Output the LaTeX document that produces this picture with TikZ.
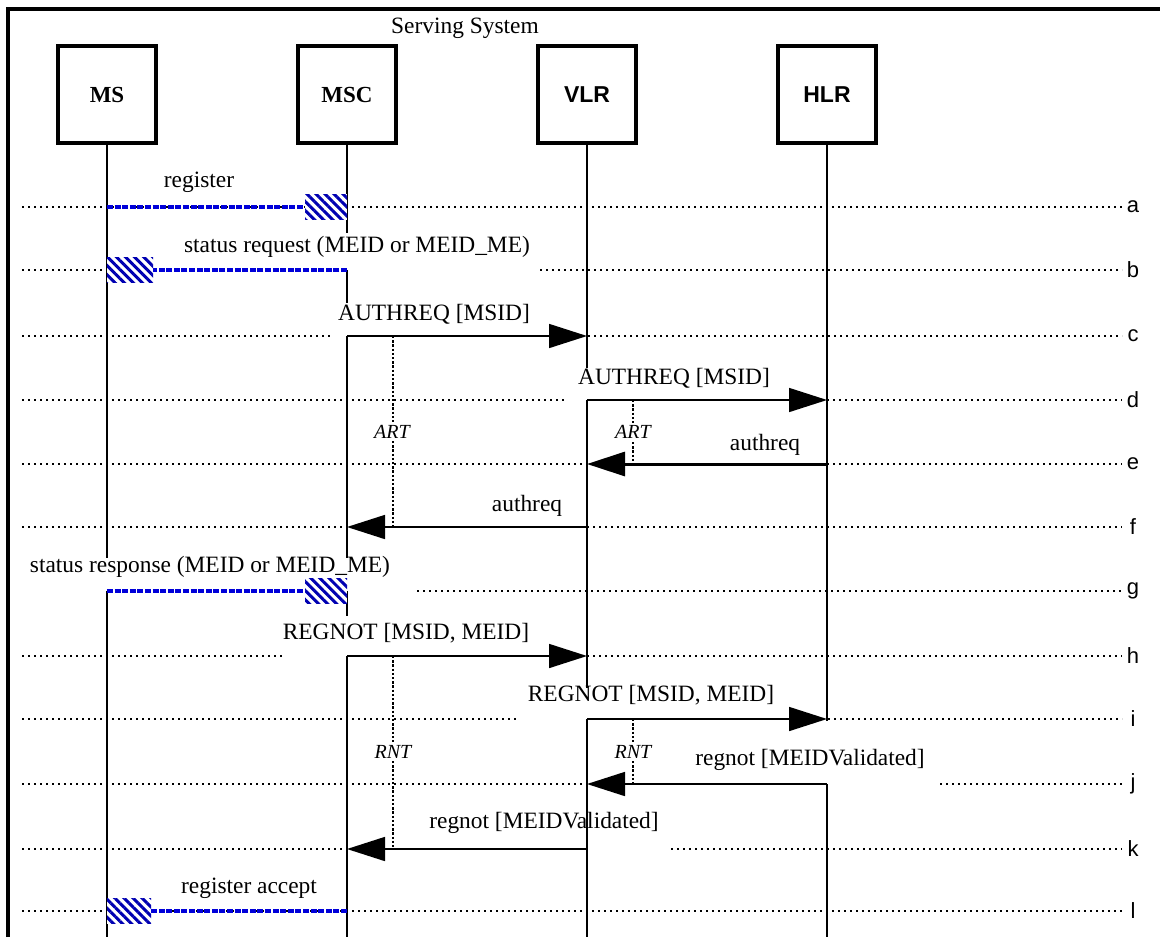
\documentclass[tikz,border=0pt]{standalone}
\usepackage{fontspec}
\setmainfont{Liberation Serif}
\setsansfont{Liberation Sans}
\usetikzlibrary{arrows.meta}
\usetikzlibrary{patterns.meta}
\newcommand{\msgfont}{\fontsize{11.7}{14}\selectfont}
\newcommand{\boxfont}{\fontsize{11.5}{14}\selectfont\bfseries}
% #1 tip, #2 offset of the tail side
\newcommand{\hatchhead}[2]{%
  \fill[white] ([shift={(#2,-6.3pt)}]#1) rectangle ([yshift=6.3pt]#1);
  \fill[pattern={Lines[angle=-45,distance=3.2pt,line width=1.5pt]},pattern color=blue!70!black]
    ([shift={(#2,-6.3pt)}]#1) rectangle ([yshift=6.3pt]#1);}

\begin{document}
\begin{tikzpicture}[x=0.5pt,y=-0.5pt,
    lifeline/.style={line width=1pt},
    rowline/.style={line width=0.6pt,dash pattern=on 1pt off 2pt},
    msg/.style={line width=0.8pt,-{Triangle[length=19pt,width=12pt]}},
    sig/.style={line width=2pt,draw=blue!85!black,dash pattern=on 3pt off 0.8pt},
    timer/.style={line width=1.4pt,dash pattern=on 1.2pt off 0.9pt},
    lbl/.style={font=\msgfont,inner sep=1pt},
    tlbl/.style={fill=white,inner sep=1pt,font=\fontsize{10}{12}\selectfont\itshape}]
    \useasboundingbox (0,0) rectangle (1160,937);

    % frame
    \draw[line width=1.7pt] (8,937) -- (8,9) -- (1160,9);
    \node[font=\msgfont] (serving) at (465,28) {Serving System};

    \begin{scope}[every node/.style={draw,line width=1.6pt,minimum width=49pt,minimum height=48.5pt,font=\boxfont}]
        \node (ms) at (107,94.5) {MS};
        \node (msc) at (347,94.5) {MSC};
        \node (vlr) at (587,94.5) {\sffamily VLR};
        \node (hlr) at (827,94.5) {\sffamily HLR};
    \end{scope}

    % points on the lifelines
    \foreach \n/\x in {ms/107,msc/347,vlr/587,hlr/827}
        \foreach \r/\y in {a/207,b/270,c/336,d/400,e/464,f/527,g/591,h/656,i/719,j/784,k/849,l/911}
            \coordinate (\n-\r) at (\x,\y);

    % dotted rows
    \foreach \y/\xa/\xb in {207/22/1122, 270/22/107, 270/540/1122, 336/22/333, 336/540/1122,
        400/22/565, 400/773/1122, 464/22/710, 464/827/1122, 527/22/471, 527/587/1122,
        591/417/1122, 656/22/283, 656/545/1122, 719/22/516, 719/780/1122,
        784/22/678, 784/940/1122, 849/22/410, 849/671/1122, 911/22/1122}
        \draw[rowline] (\xa,\y) -- (\xb,\y);
    \foreach \r/\y in {a/207,b/270,c/336,d/400,e/464,f/527,g/591,h/656,i/719,j/784,k/849,l/911}
        \node[font=\fontsize{11}{13}\sffamily] (row-\r) at (1133,\y) {\r};

    % lifelines
    \draw[lifeline] (ms.south) -- (107,558);
    \draw[lifeline] (ms-g) -- (107,937);
    \draw[lifeline] (msc.south) -- (347,233);
    \draw[lifeline] (msc-b) -- (347,303);
    \draw[lifeline] (msc-c) -- (347,558);
    \draw[lifeline] (msc-g) -- (347,616);
    \draw[lifeline] (msc-h) -- (347,937);
    \draw[lifeline] (vlr.south) -- (587,368);
    \draw[lifeline] (vlr-d) -- (587,688);
    \draw[lifeline] (vlr-i) -- (587,937);
    \draw[lifeline] (hlr.south) -- (827,721);
    \draw[lifeline] (hlr-j) -- (827,937);

    % timers
    \coordinate (art1-s) at (393,336);
    \coordinate (art1-e) at (393,527);
    \coordinate (art2-s) at (633,400);
    \coordinate (art2-e) at (633,464);
    \coordinate (rnt1-s) at (393,656);
    \coordinate (rnt1-e) at (393,849);
    \coordinate (rnt2-s) at (633,719);
    \coordinate (rnt2-e) at (633,784);
    \draw[timer] (art1-s) -- (art1-e);
    \draw[timer] (art2-s) -- (art2-e);
    \draw[timer] (rnt1-s) -- (rnt1-e);
    \draw[timer] (rnt2-s) -- (rnt2-e);
    \node[tlbl] (art1) at (392,432) {ART};
    \node[tlbl] (art2) at (633,432) {ART};
    \node[tlbl] (rnt1) at (393,752) {RNT};
    \node[tlbl] (rnt2) at (633,752) {RNT};

    % messages
    \draw[sig] (ms-a) -- (msc-a);
    \hatchhead{msc-a}{-21pt}
    \draw[sig] (msc-b) -- (ms-b);
    \hatchhead{ms-b}{23pt}
    \draw[msg] (msc-c) -- (vlr-c);
    \draw[msg] (vlr-d) -- (hlr-d);
    \draw[msg,line width=1.5pt] (hlr-e) -- (vlr-e);
    \draw[msg] (vlr-f) -- (msc-f);
    \draw[sig] (ms-g) -- (msc-g);
    \hatchhead{msc-g}{-21pt}
    \draw[msg] (msc-h) -- (vlr-h);
    \draw[msg] (vlr-i) -- (hlr-i);
    \draw[msg] (hlr-j) -- (vlr-j);
    \draw[msg] (vlr-k) -- (msc-k);
    \draw[sig] (msc-l) -- (ms-l);
    \hatchhead{ms-l}{22pt}

    % labels
    \node[lbl] (l-a) at (199,182) {register};
    \node[lbl] (l-b) at (357,247) {status request (MEID or MEID\_ME)};
    \node[lbl] (l-c) at (434,314) {AUTHREQ [MSID]};
    \node[lbl] (l-d) at (674,378) {AUTHREQ [MSID]};
    \node[lbl] (l-e) at (765,445) {authreq};
    \node[lbl] (l-f) at (527,506) {authreq};
    \node[lbl] (l-g) at (210,567) {status response (MEID or MEID\_ME)};
    \node[lbl] (l-h) at (406,633) {REGNOT [MSID, MEID]};
    \node[lbl] (l-i) at (651,695) {REGNOT [MSID, MEID]};
    \node[lbl] (l-j) at (810,760) {regnot [MEIDValidated]};
    \node[lbl] (l-k) at (544,823) {regnot [MEIDValidated]};
    \node[lbl] (l-l) at (249,888) {register accept};
\end{tikzpicture}
\end{document}
